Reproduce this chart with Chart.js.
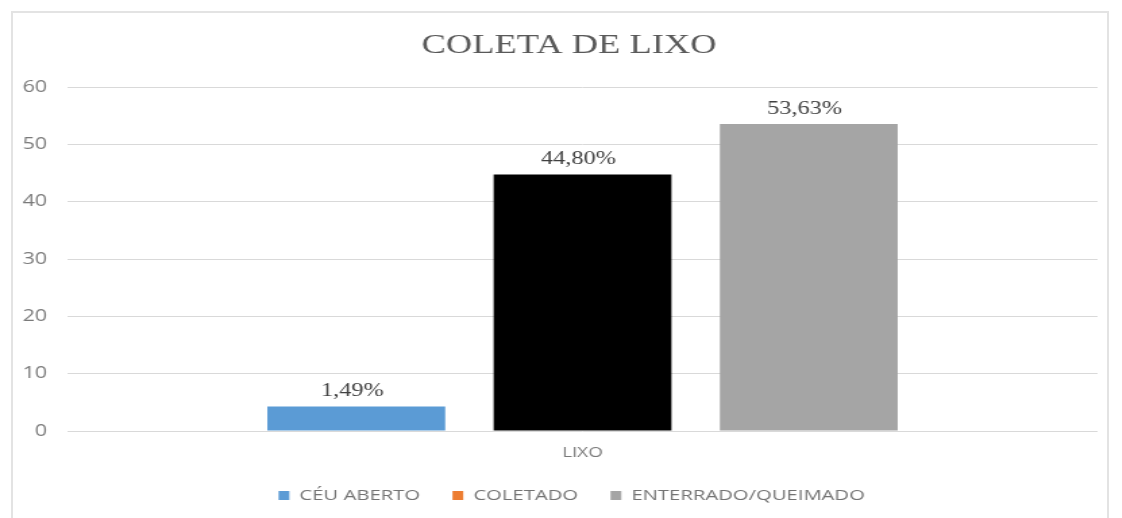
<!DOCTYPE html>
<html>
<head>
<meta charset="utf-8">
<script src="https://cdn.jsdelivr.net/npm/chart.js@4.4.1/dist/chart.umd.min.js"></script>
<style>
  html, body { margin: 0; padding: 0; background: #fff; overflow: hidden; }
  #frame {
    position: absolute; left: 11px; top: 11px; width: 1098px; height: 530px;
    border: 2px solid #e3e3e3; box-sizing: border-box;
  }
  /* o grafico original esta esticado na horizontal */
  #wrap {
    position: absolute; left: 0; top: 0; width: 831px; height: 518px;
    transform: scaleX(1.35); transform-origin: 0 0;
  }
</style>
</head>
<body>
<div id="frame"></div>
<div id="wrap"><canvas id="chartLixo" width="831" height="518"></canvas></div>
<script>
// dados do grafico
const categorias = ['LIXO'];
const series = ['CÉU ABERTO', 'COLETADO', 'ENTERRADO/QUEIMADO'];
const valores = [4.3, 44.8, 53.63];
const rotulos = ['1,49%', '44,80%', '53,63%'];
const yTicks = [0, 10, 20, 30, 40, 50, 60];

const corBarra = ['#5B9BD5', '#000000', '#A5A5A5'];
const corLegenda = ['#5B9BD5', '#ED7D31', '#A5A5A5'];

// escreve o rotulo em cima de cada barra
const rotuloPlugin = {
    id: 'rotuloBarra',
    afterLayout(chart) {
        // titulo e legenda ficam um pouco a direita no original
        chart.titleBlock.left += 8;
        chart.titleBlock.right += 8;
        chart.legend.left += 10;
        chart.legend.right += 10;
    },
    afterDatasetsDraw(chart) {
        const ctx = chart.ctx;
        ctx.save();
        ctx.font = '18px "Liberation Serif", "DejaVu Serif", serif';
        ctx.fillStyle = '#404040';
        ctx.textAlign = 'center';
        ctx.textBaseline = 'bottom';
        chart.data.datasets.forEach((ds, i) => {
            const bar = chart.getDatasetMeta(i).data[0];
            ctx.fillText(rotulos[i], bar.x - 3, bar.y - 6);
        });
        ctx.restore();
    }
};

const datasets = series.map((nome, i) => ({
    label: nome,
    data: [valores[i]],
    backgroundColor: corBarra[i],
    borderWidth: 0
}));

var ctx = document.getElementById('chartLixo').getContext('2d');
var myChart = new Chart(ctx, {
    type: 'bar',
    data: { labels: categorias, datasets: datasets },
    plugins: [rotuloPlugin],
    options: {
        responsive: false,
        animation: false,
        layout: { padding: { left: 14, right: 18, top: 0, bottom: 5 } },
        categoryPercentage: 0.659,
        barPercentage: 0.786,
        plugins: {
            title: {
                display: true,
                text: 'COLETA DE LIXO',
                color: '#595959',
                font: { family: '"Liberation Serif", "DejaVu Serif", serif', size: 27, weight: 'normal' },
                padding: { top: 30, bottom: 25 }
            },
            legend: {
                position: 'bottom',
                labels: {
                    color: '#737373',
                    font: { family: '"Open Sans", sans-serif', size: 15 },
                    boxWidth: 8,
                    boxHeight: 9,
                    padding: 24,
                    generateLabels(chart) {
                        return series.map((nome, i) => ({
                            text: nome,
                            fillStyle: corLegenda[i],
                            strokeStyle: corLegenda[i],
                            lineWidth: 0,
                            fontColor: '#737373',
                            datasetIndex: i
                        }));
                    }
                }
            },
            tooltip: { enabled: false }
        },
        scales: {
            x: {
                afterFit(scale) { scale.height = 33; },
                grid: { display: false, drawTicks: false },
                border: { display: false },
                ticks: { color: '#7a7a7a', padding: 14, font: { family: '"Open Sans", sans-serif', size: 14 } }
            },
            y: {
                min: 0,
                max: 60,
                afterFit(scale) { scale.width = 36; },
                afterBuildTicks(scale) { scale.ticks = yTicks.map(v => ({ value: v })); },
                grid: { color: '#d9d9d9', lineWidth: 1, drawTicks: false },
                border: { display: false },
                ticks: { color: '#7a7a7a', padding: 15, font: { family: '"Open Sans", sans-serif', size: 16 } }
            }
        }
    }
});
</script>
</body>
</html>
